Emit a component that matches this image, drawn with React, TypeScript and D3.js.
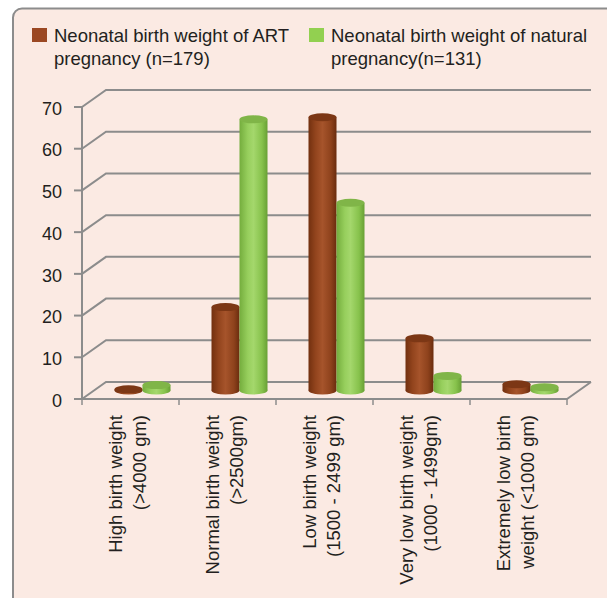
import React from 'react';
import * as d3 from 'd3';

// categories (two text lines each) and the two series
const categories = ['high', 'normal', 'low', 'veryLow', 'extremelyLow'];
const categoryLines = [
  ['High birth weight', '(>4000 gm)'],
  ['Normal birth weight', '(>2500gm)'],
  ['Low birth weight', '(1500 - 2499 gm)'],
  ['Very low birth weight', '(1000 - 1499gm)'],
  ['Extremely low birth', 'weight (<1000 gm)'],
];
const artValues = [0.3, 20, 65.5, 12.5, 1.5];
const naturalValues = [1.3, 65, 45, 3.5, 0.8];
const yTicks = [0, 10, 20, 30, 40, 50, 60, 70];
const legendLines = [
  ['Neonatal birth weight of ART', 'pregnancy (n=179)'],
  ['Neonatal birth weight of natural', 'pregnancy(n=131)'],
];

const width = 607;
const height = 598;
const plot = { left: 82, right: 567, bottom: 399, top: 107 };
const depth = { dx: 24, dy: -17 };
const barW = 28;
const font = '"Liberation Sans", Arial, sans-serif';
const gridColor = '#8c8c8c';
const textColor = '#231f20';

const seriesStyle = [
  { id: 'art', values: artValues, grad: 'gradArt', top: '#7c3715', swatch: '#9b4823' },
  { id: 'nat', values: naturalValues, grad: 'gradNat', top: '#80b548', swatch: '#92d050' },
];

export default function App() {
  const x = d3.scaleBand<string>().domain(categories).range([plot.left, plot.right]);
  const y = d3.scaleLinear().domain([0, 70]).range([plot.bottom, plot.top]);
  const inner = d3.scaleBand<string>().domain(seriesStyle.map(s => s.id)).range([0, barW * 2]);

  const baseY = y(0) + depth.dy / 2;

  return (
    <div style={{ position: 'absolute', left: 0, top: 0 }}>
      <svg width={width} height={height} style={{ display: 'block' }}>
        <defs>
          <linearGradient id="gradArt" x1="0" x2="1" y1="0" y2="0">
            <stop offset="0" stopColor="#72300f" />
            <stop offset="0.25" stopColor="#92441d" />
            <stop offset="0.5" stopColor="#a6542b" />
            <stop offset="0.8" stopColor="#8e421c" />
            <stop offset="1" stopColor="#6a2c0e" />
          </linearGradient>
          <linearGradient id="gradNat" x1="0" x2="1" y1="0" y2="0">
            <stop offset="0" stopColor="#74ad3d" />
            <stop offset="0.3" stopColor="#97cf5d" />
            <stop offset="0.5" stopColor="#a4d76c" />
            <stop offset="0.8" stopColor="#87c24c" />
            <stop offset="1" stopColor="#68a035" />
          </linearGradient>
        </defs>
        <rect x={0} y={0} width={width} height={height} fill="#ffffff" />
        <rect x={13} y={8.5} width={640} height={640} rx={9} fill="#fbeae3" stroke={gridColor} strokeWidth={2} />

        {/* legend */}
        {legendLines.map((lines, i) => {
          const lx = i === 0 ? 32 : 309;
          return (
            <g key={i}>
              <rect x={lx} y={28} width={15} height={14} fill={seriesStyle[i].swatch} />
              <text x={lx + 22} y={42} fontFamily={font} fontSize={18.5} fill={textColor}>
                {lines.map((t, j) => (
                  <tspan key={j} x={lx + 22} y={42 + j * 22.5}>{t}</tspan>
                ))}
              </text>
            </g>
          );
        })}

        {/* side wall + back wall gridlines */}
        {yTicks.map(t => (
          <polyline
            key={t}
            points={`${plot.left},${y(t)} ${plot.left + depth.dx},${y(t) + depth.dy} ${plot.right + depth.dx},${y(t) + depth.dy}`}
            fill="none"
            stroke={gridColor}
            strokeWidth={2}
          />
        ))}
        {/* floor */}
        <polyline
          points={`${plot.left},${y(0)} ${plot.right},${y(0)} ${plot.right + depth.dx},${y(0) + depth.dy}`}
          fill="none"
          stroke={gridColor}
          strokeWidth={2}
        />
        {/* y axis */}
        <line x1={plot.left} x2={plot.left} y1={y(70)} y2={y(0) + 1} stroke={gridColor} strokeWidth={2} />
        {yTicks.map(t => (
          <g key={t}>
            <line x1={plot.left - 8} x2={plot.left} y1={y(t)} y2={y(t)} stroke={gridColor} strokeWidth={2} />
            <text x={62} y={y(t) + 3} textAnchor="end" dominantBaseline="middle" fontFamily={font} fontSize={18} fill={textColor}>
              {t}
            </text>
          </g>
        ))}
        {/* x ticks */}
        {[...categories.map(c => x(c) as number), plot.right].map((tx, i) => (
          <line key={i} x1={tx} x2={tx} y1={y(0)} y2={y(0) + 6} stroke={gridColor} strokeWidth={1.5} />
        ))}

        {/* cylinders */}
        {categories.map((c, ci) => {
          const start = (x(c) as number) + x.bandwidth() / 2 + depth.dx / 2 - barW;
          return (
            <g key={c}>
              {seriesStyle.map(s => {
                const bx = start + (inner(s.id) as number);
                const cx = bx + barW / 2;
                const topY = y(s.values[ci]) + depth.dy / 2;
                const ry = 4;
                return (
                  <g key={s.id}>
                    <ellipse cx={cx} cy={baseY} rx={barW / 2} ry={ry} fill={`url(#${s.grad})`} />
                    <rect x={bx} y={topY} width={barW} height={baseY - topY} fill={`url(#${s.grad})`} />
                    <ellipse cx={cx} cy={topY} rx={barW / 2} ry={ry} fill={s.top} />
                  </g>
                );
              })}
            </g>
          );
        })}

        {/* category labels */}
        {categories.map((c, ci) => {
          const cx = (x(c) as number) + x.bandwidth() / 2;
          return (
            <text
              key={c}
              transform={`translate(${cx},415) rotate(-90)`}
              textAnchor="end"
              fontFamily={font}
              fontSize={18.5}
              fill={textColor}
            >
              {categoryLines[ci].map((t, j) => (
                <tspan key={j} x={0} y={-8.5 + j * 24}>{t}</tspan>
              ))}
            </text>
          );
        })}
      </svg>
    </div>
  );
}
